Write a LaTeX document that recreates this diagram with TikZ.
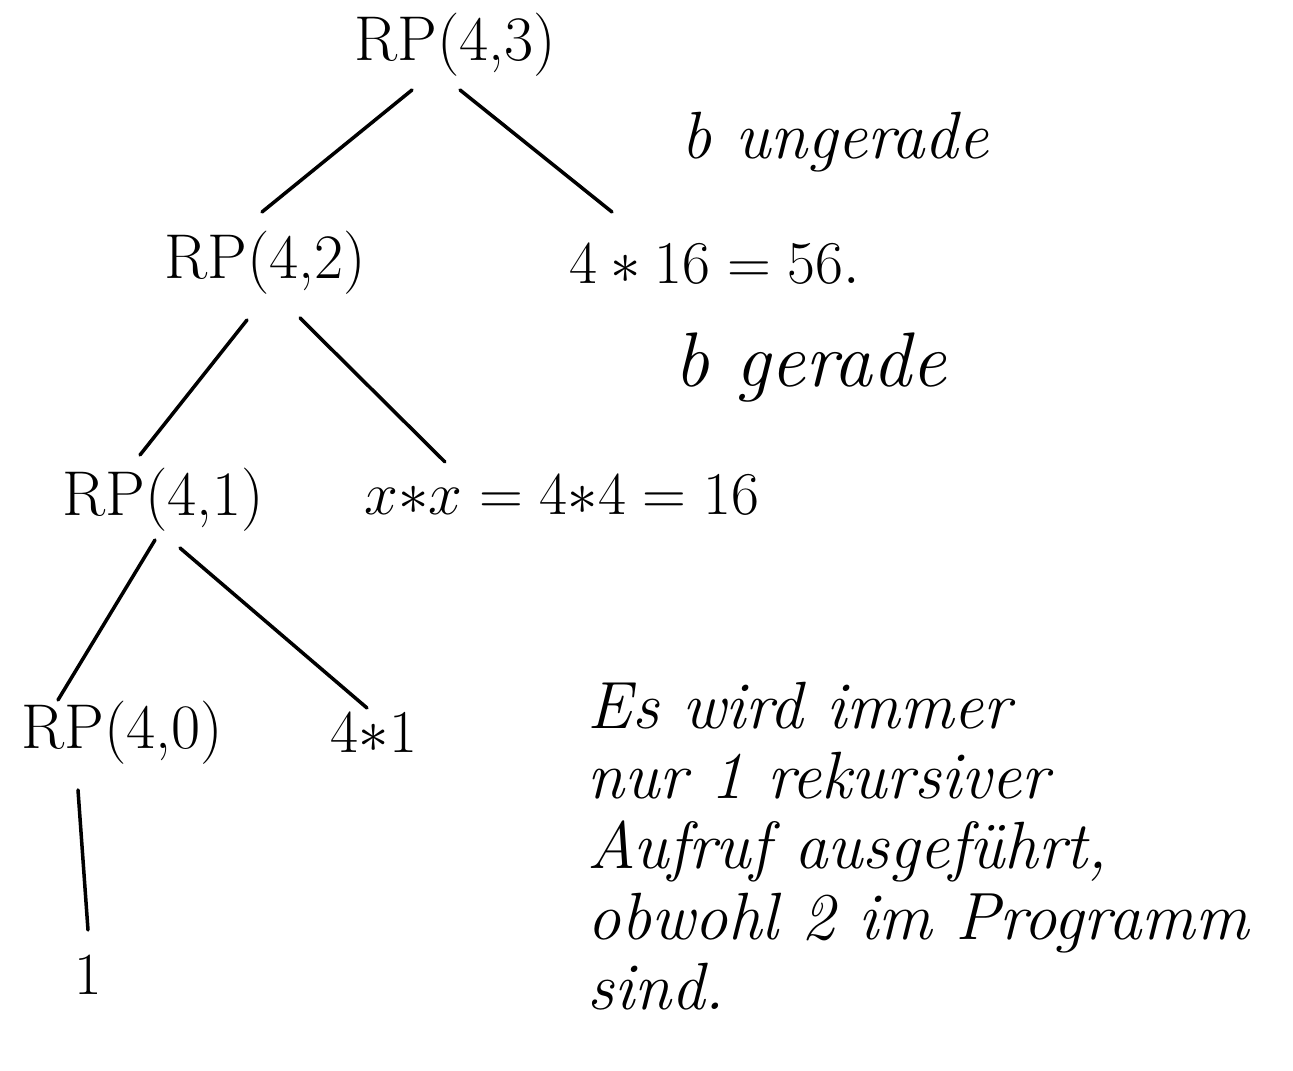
\documentclass[tikz,border=0pt]{standalone}
\usetikzlibrary{calc}
\begin{document}
\begin{tikzpicture}  % ------ Aufrufbaum RP(4,3) -------------------
      [x=0.01cm,y=-0.01cm, line width=1pt, line cap=round,
       rp/.style={inner sep=0pt,font=\fontsize{18}{22}\selectfont},
       wert/.style={inner sep=0pt,font=\fontsize{17}{20}\selectfont},
       notiz/.style={inner sep=0pt,font=\fontsize{19}{20}\selectfont\itshape}]
    \useasboundingbox (0,0) rectangle (1293,1071);
    \node[rp] (rp3) at (455,45) {RP(4,3)};
    \node[notiz] (ung) at (835,142) {b ungerade};
    \node[rp] (rp2) at (265,263) {RP(4,2)};
    \node[wert] (m16) at (715,264) {$4 * 16 = 56.$};
    \node[notiz,font=\fontsize{22}{24}\selectfont\itshape] (ger) at (810,368) {b gerade};
    \node[rp] (rp1) at (163,500) {RP(4,1)};
    \node[wert,font=\fontsize{16}{18}\selectfont] (xx) at (562,495) {$x{*}x = 4{*}4 = 16$};
    \node[rp] (rp0) at (122,733) {RP(4,0)};
    \node[wert] (m41) at (374,733) {$4{*}1$};
    \node[wert] (one) at (88,975) {1};
    \node[notiz,align=left,anchor=north west] (txt) at (586,680)
        {Es wird immer\\ nur 1 rekursiver\\ Aufruf ausgef\"uhrt,\\ obwohl 2 im Programm\\ sind.};
    \draw ($(rp3)+(-43,45)$) -- ($(rp2)+(-3,-51)$);    % links
    \draw ($(rp3)+(5,45)$) -- ($(m16)+(-103,-52)$);    % rechts
    \draw ($(rp2)+(-18,57)$) -- ($(rp1)+(-23,-45)$);
    \draw ($(rp2)+(35,55)$) -- ($(xx)+(-117,-33)$);
    \draw ($(rp1)+(-8,40)$) -- ($(rp0)+(-64,-33)$);
    \draw ($(rp1)+(17,48)$) -- ($(m41)+(-7,-25)$);
    \draw ($(rp0)+(-44,57)$) -- ($(one)+(0,-45)$);     % Abbruch b=0
\end{tikzpicture}
\end{document}
